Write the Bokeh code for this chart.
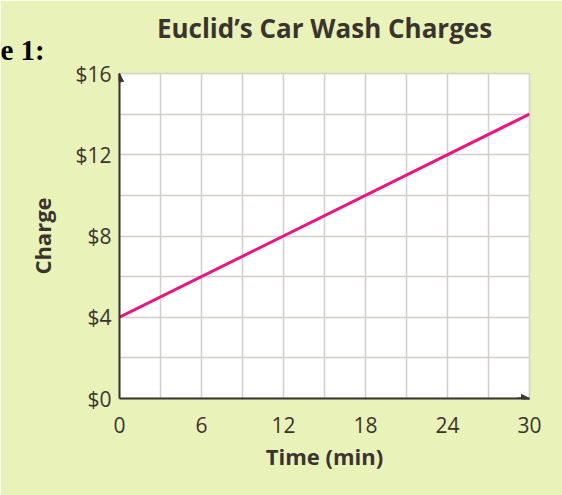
from bokeh.plotting import figure
from bokeh.models import Range1d, FixedTicker, Title, Arrow, NormalHead
from bokeh.embed import file_html
from bokeh.resources import INLINE

# ---- data ----
TIME_MIN = [0, 30]
CHARGE = [4, 14]
X_TICKS = [0, 6, 12, 18, 24, 30]
Y_TICKS = [0, 4, 8, 12, 16]
X_GRID = [0, 3, 6, 9, 12, 15, 18, 21, 24, 27, 30]
Y_GRID = [0, 2, 4, 6, 8, 10, 12, 14, 16]
Y_TICK_LABELS = {0: "$0", 4: "$4", 8: "$8", 12: "$12", 16: "$16"}
TITLE = "Euclid\u2019s Car Wash Charges"
X_LABEL = "Time (min)"
Y_LABEL = "Charge"
X_MAX = 30
Y_MAX = 16

GREEN = "#e9f3b9"
INK = "#3b342e"
GRID = "#d3cfca"
FONT = "Open Sans"

p = figure(width=562, height=495, output_backend="svg", toolbar_location=None,
           x_range=Range1d(0, X_MAX), y_range=Range1d(0, Y_MAX),
           min_border_left=119, min_border_right=33, min_border_top=73, min_border_bottom=97,
           title=TITLE)
p.background_fill_color = "white"
p.border_fill_color = GREEN
p.outline_line_color = GRID
p.outline_line_width = 1.5

p.title.align = "center"
p.title.text_font = FONT
p.title.text_font_size = "26px"
p.title.text_font_style = "bold"
p.title.text_color = INK
p.title.standoff = -44

p.add_layout(Title(text="e 1:", align="left", offset=-119, standoff=16,
                   text_font="Liberation Serif", text_font_style="bold",
                   text_font_size="29px", text_color="black"), "above")

p.xgrid.ticker = FixedTicker(ticks=X_GRID)
p.ygrid.ticker = FixedTicker(ticks=Y_GRID)
for g in (p.xgrid, p.ygrid):
    g.grid_line_color = GRID
    g.grid_line_width = 1.5

p.xaxis.ticker = FixedTicker(ticks=X_TICKS)
p.yaxis.ticker = FixedTicker(ticks=Y_TICKS)
p.yaxis.major_label_overrides = Y_TICK_LABELS
p.xaxis.axis_label = X_LABEL
p.yaxis.axis_label = Y_LABEL
for ax in (p.xaxis, p.yaxis):
    ax.axis_line_color = INK
    ax.axis_line_width = 2
    ax.major_tick_line_color = None
    ax.minor_tick_line_color = None
    ax.major_tick_out = 0
    ax.major_tick_in = 0
    ax.major_label_text_font = FONT
    ax.major_label_text_font_size = "21px"
    ax.major_label_text_color = INK
    ax.axis_label_text_font = FONT
    ax.axis_label_text_font_style = "bold"
    ax.axis_label_text_font_size = "22px"
    ax.axis_label_text_color = INK
p.xaxis.major_label_standoff = 18
p.yaxis.major_label_standoff = 8
p.xaxis.axis_label_standoff = 5
p.yaxis.axis_label_standoff = 15

p.line(TIME_MIN, CHARGE, line_color="#e8177f", line_width=3)

# arrowheads at axis ends
p.add_layout(Arrow(end=NormalHead(size=8, fill_color=INK, line_color=INK),
                   x_start=0, y_start=Y_MAX * 0.97, x_end=0, y_end=Y_MAX,
                   line_color=INK, line_width=2))
p.add_layout(Arrow(end=NormalHead(size=8, fill_color=INK, line_color=INK),
                   x_start=X_MAX * 0.97, y_start=0, x_end=X_MAX, y_end=0,
                   line_color=INK, line_width=2))

open("out.html", "w").write(file_html(p, INLINE))
